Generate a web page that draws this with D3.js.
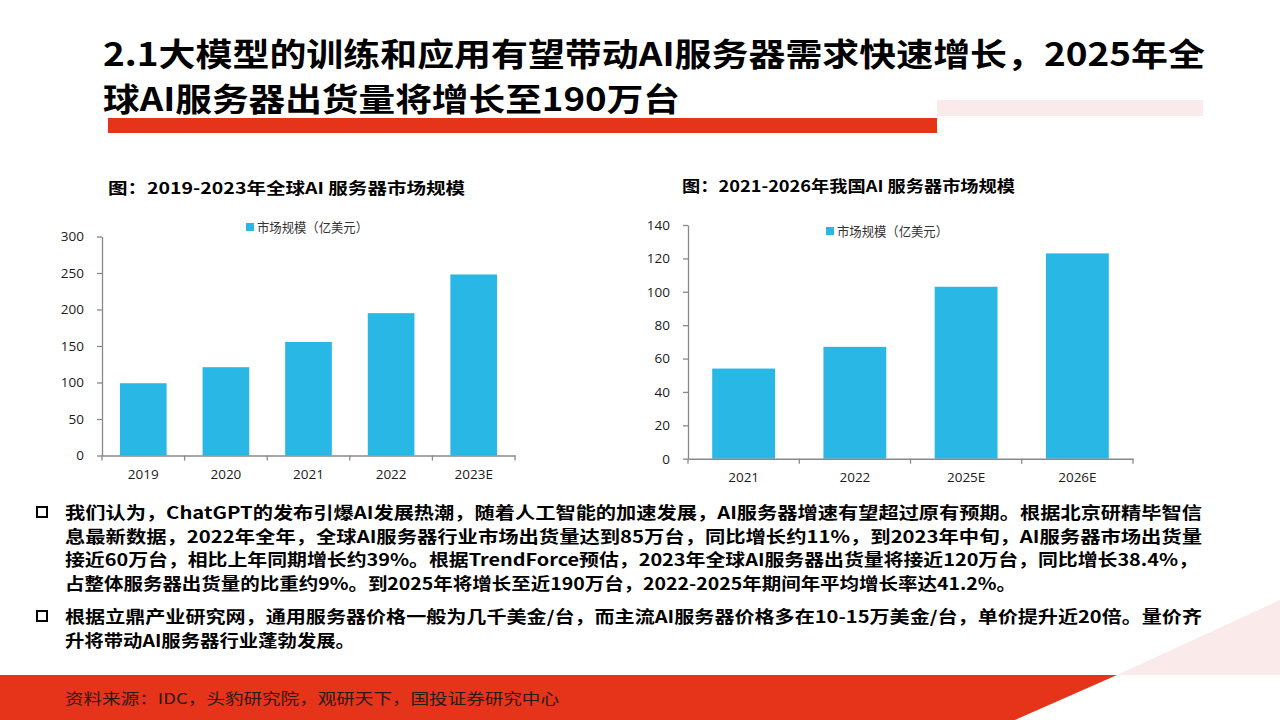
<!DOCTYPE html>
<html>
<head>
<meta charset="utf-8">
<script src="https://cdn.jsdelivr.net/npm/d3@7"></script>
<style>
  html, body { margin: 0; padding: 0; background: #fff; }
  svg { display: block; }
</style>
</head>
<body>
<div id="chart"></div>
<script>
// chart data
const globalYears = ["2019", "2020", "2021", "2022", "2023E"];
const globalSize = [99, 121, 155.5, 195, 248];
const globalTicks = [0, 50, 100, 150, 200, 250, 300];

const chinaYears = ["2021", "2022", "2025E", "2026E"];
const chinaSize = [54, 67, 103, 123];
const chinaTicks = [0, 20, 40, 60, 80, 100, 120, 140];

const seriesName = "市场规模（亿美元）";

const titleLines = [
  "2.1大模型的训练和应用有望带动AI服务器需求快速增长，2025年全",
  "球AI服务器出货量将增长至190万台"
];
const bullet1 = [
  "我们认为，ChatGPT的发布引爆AI发展热潮，随着人工智能的加速发展，AI服务器增速有望超过原有预期。根据北京研精毕智信",
  "息最新数据，2022年全年，全球AI服务器行业市场出货量达到85万台，同比增长约11%，到2023年中旬，AI服务器市场出货量",
  "接近60万台，相比上年同期增长约39%。根据TrendForce预估，2023年全球AI服务器出货量将接近120万台，同比增长38.4%，",
  "占整体服务器出货量的比重约9%。到2025年将增长至近190万台，2022-2025年期间年平均增长率达41.2%。"
];
const bullet2 = [
  "根据立鼎产业研究网，通用服务器价格一般为几千美金/台，而主流AI服务器价格多在10-15万美金/台，单价提升近20倍。量价齐",
  "升将带动AI服务器行业蓬勃发展。"
];
const sourceText = "资料来源：IDC，头豹研究院，观研天下，国投证券研究中心";

var width = 1280, height = 720;
var barColor = "#29b8e6";
var red = "#e5341a";
var pink = "#fbeaea";
var cjk = "'Noto Sans CJK SC', 'Noto Sans', sans-serif";
var num = "'Open Sans', 'Noto Sans', sans-serif";

var svg = d3.select("#chart").append("svg")
  .attr("width", width)
  .attr("height", height);

// ---- header ----
svg.append("rect").attr("x", 937).attr("y", 100).attr("width", 266).attr("height", 16).attr("fill", pink);
svg.append("rect").attr("x", 108).attr("y", 118).attr("width", 829).attr("height", 15).attr("fill", red);

var titleY = [66, 111], titleLen = [1102, 577];
svg.selectAll("text.title")
  .data(titleLines)
  .enter().append("text")
  .attr("class", "title")
  .attr("x", 103)
  .attr("y", (d, i) => titleY[i])
  .attr("textLength", (d, i) => titleLen[i])
  .attr("lengthAdjust", "spacingAndGlyphs")
  .style("font-family", cjk)
  .style("font-weight", 700)
  .style("font-size", "32px")
  .attr("fill", "#000")
  .text(d => d);

// ---- bar charts ----
function drawChart(cfg) {
  var g = svg.append("g");

  var x = d3.scaleBand()
    .domain(cfg.cats)
    .range([cfg.x0, cfg.x1])
    .paddingInner(0.435)
    .paddingOuter(0.2175);

  var y = d3.scaleLinear()
    .domain([0, d3.max(cfg.ticks)])
    .range([cfg.y0, cfg.y1]);

  // chart caption
  g.append("text")
    .attr("x", cfg.titleX)
    .attr("y", cfg.titleY)
    .attr("textLength", cfg.titleLen)
    .attr("lengthAdjust", "spacingAndGlyphs")
    .style("font-family", cjk)
    .style("font-weight", 700)
    .style("font-size", "16px")
    .attr("fill", "#000")
    .text(cfg.title);

  g.selectAll("rect.bar")
    .data(cfg.values)
    .enter().append("rect")
    .attr("class", "bar")
    .attr("x", (d, i) => x(cfg.cats[i]))
    .attr("y", d => y(d))
    .attr("width", x.bandwidth())
    .attr("height", d => y(0) - y(d))
    .attr("fill", barColor);

  // y axis
  var ya = g.append("g")
    .attr("transform", "translate(" + cfg.x0 + ",0)")
    .call(d3.axisLeft(y).tickValues(cfg.ticks).tickSize(5).tickPadding(13).tickSizeOuter(0));
  ya.select(".domain").attr("stroke", "#898989").attr("stroke-width", 1.3);
  ya.selectAll(".tick line").attr("stroke", "#898989").attr("stroke-width", 1.3);
  ya.selectAll(".tick text")
    .style("font-family", num).style("font-size", "13.5px").attr("fill", "#1a1a1a");

  // x axis (labels at band centres, ticks at band edges)
  var xa = g.append("g")
    .attr("transform", "translate(0," + cfg.y0 + ")")
    .call(d3.axisBottom(x).tickSize(0).tickPadding(14).tickSizeOuter(0));
  xa.select(".domain").attr("stroke", "#898989").attr("stroke-width", 1.5);
  xa.selectAll(".tick text")
    .style("font-family", num).style("font-size", "13.5px").attr("fill", "#1a1a1a");

  var edges = d3.range(cfg.cats.length + 1).map(i => cfg.x0 + i * x.step());
  xa.selectAll("line.edge")
    .data(edges)
    .enter().append("line")
    .attr("class", "edge")
    .attr("x1", d => d).attr("x2", d => d)
    .attr("y1", 0).attr("y2", 5)
    .attr("stroke", "#898989").attr("stroke-width", 1.3);

  // legend
  g.append("rect")
    .attr("x", cfg.legX).attr("y", cfg.legY - 4)
    .attr("width", 8).attr("height", 8)
    .attr("fill", barColor);
  g.append("text")
    .attr("x", cfg.legX + 11)
    .attr("y", cfg.legY)
    .attr("dy", "0.35em")
    .attr("textLength", 111)
    .attr("lengthAdjust", "spacingAndGlyphs")
    .style("font-family", cjk)
    .style("font-size", "13px")
    .attr("fill", "#333")
    .text(seriesName);
}

drawChart({
  cats: globalYears, values: globalSize, ticks: globalTicks,
  x0: 102, x1: 515, y0: 455.5, y1: 236.5,
  title: "图：2019-2023年全球AI 服务器市场规模",
  titleX: 108, titleY: 194, titleLen: 357,
  legX: 246, legY: 227
});

drawChart({
  cats: chinaYears, values: chinaSize, ticks: chinaTicks,
  x0: 688, x1: 1133, y0: 458.7, y1: 225,
  title: "图：2021-2026年我国AI 服务器市场规模",
  titleX: 682, titleY: 192, titleLen: 333,
  legX: 826, legY: 231
});

// ---- bullet text ----
function drawBullet(lines, top, ends) {
  var g = svg.append("g");
  g.append("rect")
    .attr("x", 37).attr("y", top - 12)
    .attr("width", 10).attr("height", 10)
    .attr("fill", "none").attr("stroke", "#000").attr("stroke-width", 2);
  g.selectAll("text")
    .data(lines)
    .enter().append("text")
    .attr("x", 65)
    .attr("y", (d, i) => top + i * 23.7)
    .attr("textLength", (d, i) => ends[i] - 65)
    .attr("lengthAdjust", "spacingAndGlyphs")
    .style("font-family", cjk)
    .style("font-weight", 700)
    .style("font-size", "16.5px")
    .attr("fill", "#000")
    .text(d => d);
}
drawBullet(bullet1, 519, [1202, 1202, 1198, 1016]);
drawBullet(bullet2, 623, [1202, 355]);

// ---- footer ----
svg.append("polygon")
  .attr("points", "1117,675 1280,600 1280,675")
  .attr("fill", pink);
svg.append("polygon")
  .attr("points", "0,675 1117,675 1015,720 0,720")
  .attr("fill", red);
svg.append("text")
  .attr("x", 65)
  .attr("y", 704)
  .attr("textLength", 494)
  .attr("lengthAdjust", "spacingAndGlyphs")
  .style("font-family", cjk)
  .style("font-size", "15px")
  .attr("fill", "#2a1a14")
  .text(sourceText);
</script>
</body>
</html>
